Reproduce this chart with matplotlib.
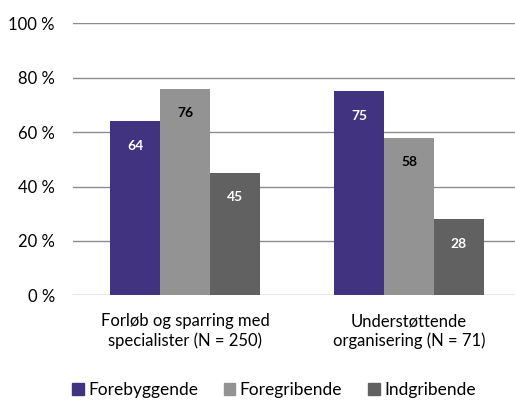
import matplotlib
matplotlib.use("Agg")
import matplotlib.pyplot as plt
import numpy as np

plt.rcParams['font.family'] = ['Lato', 'DejaVu Sans']

categories = ["Forløb og sparring med\nspecialister (N = 250)", "Understøttende\norganisering (N = 71)"]
series = ["Forebyggende", "Foregribende", "Indgribende"]
values = {
    "Forebyggende": [64, 75],
    "Foregribende": [76, 58],
    "Indgribende": [45, 28],
}
colors = ["#41337F", "#939393", "#616161"]
label_colors = ["white", "black", "white"]
yticks = [0, 20, 40, 60, 80, 100]
ytick_labels = ["0 %", "20 %", "40 %", "60 %", "80 %", "100 %"]

fig = plt.figure(figsize=(5.15, 4.0), dpi=100)
ax = fig.add_axes([73/515, 1-295.3/400, (515-73)/515, (295.3-23.3)/400])

x = np.arange(len(categories))
w = 0.223
for i, s in enumerate(series):
    pos = x + (i - 1) * w
    bars = ax.bar(pos, values[s], width=w, color=colors[i], zorder=3, label=s)
    for b, v in zip(bars, values[s]):
        ax.text(b.get_x() + b.get_width()/2, v - 9, f"{v}", ha="center", va="center",
                color=label_colors[i], fontsize=10, fontweight="bold", zorder=4)

ax.set_xlim(-0.5, 1.473)
ax.set_ylim(0, 100)
ax.set_yticks(yticks)
ax.set_yticklabels(ytick_labels, fontsize=12)
ax.yaxis.grid(True, color="#8c8c8c", linewidth=1.0, zorder=0)
ax.set_axisbelow(True)
for sp in ax.spines.values():
    sp.set_visible(False)
ax.tick_params(axis="y", length=0, pad=13)
ax.tick_params(axis="x", length=0, pad=13)
ax.set_xticks(x)
ax.set_xticklabels(categories, fontsize=12, linespacing=1.25)

handles = [plt.Rectangle((0, 0), 1, 1, color=c) for c in colors]
fig.legend(handles, series, loc="center", bbox_to_anchor=(274/515, 1-390/400), ncol=3,
           frameon=False, fontsize=12.5, handlelength=0.65, handleheight=0.65,
           handletextpad=0.25, columnspacing=1.5, borderpad=0)

fig.savefig("out.png", dpi=100)
